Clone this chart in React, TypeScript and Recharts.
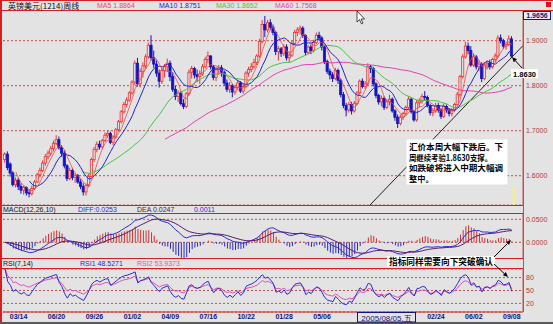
import React from 'react';
import { ComposedChart, Bar, Line, XAxis, YAxis, CartesianGrid, ReferenceLine } from 'recharts';

type Week = [string, number, number, number, number];

// GBP/USD weekly candles: [date, open, high, low, close]
const weeks2003: Week[] = [
  ['02/07', 1.636, 1.652, 1.629, 1.648], ['02/14', 1.648, 1.654, 1.612, 1.618], ['02/21', 1.626, 1.630, 1.598, 1.606],
  ['02/28', 1.606, 1.610, 1.576, 1.580], ['03/07', 1.580, 1.596, 1.574, 1.590], ['03/14', 1.590, 1.595, 1.568, 1.576],
  ['03/21', 1.576, 1.583, 1.560, 1.568], ['03/28', 1.568, 1.578, 1.558, 1.574], ['04/04', 1.574, 1.576, 1.556, 1.562],
  ['04/11', 1.562, 1.570, 1.552, 1.560], ['04/18', 1.560, 1.578, 1.556, 1.572], ['04/25', 1.572, 1.590, 1.568, 1.586],
  ['05/02', 1.586, 1.606, 1.584, 1.602], ['05/09', 1.602, 1.618, 1.596, 1.612], ['05/16', 1.612, 1.634, 1.608, 1.628],
  ['05/23', 1.628, 1.648, 1.622, 1.642], ['05/30', 1.642, 1.656, 1.636, 1.650], ['06/06', 1.650, 1.666, 1.644, 1.660],
  ['06/13', 1.660, 1.678, 1.654, 1.672], ['06/20', 1.672, 1.690, 1.668, 1.680], ['06/27', 1.680, 1.687, 1.658, 1.662],
  ['07/04', 1.662, 1.668, 1.642, 1.650], ['07/11', 1.650, 1.656, 1.616, 1.622], ['07/18', 1.622, 1.626, 1.588, 1.594],
  ['07/25', 1.594, 1.618, 1.590, 1.612], ['08/01', 1.612, 1.616, 1.590, 1.596], ['08/08', 1.596, 1.606, 1.584, 1.600],
  ['08/15', 1.600, 1.604, 1.582, 1.586], ['08/22', 1.586, 1.592, 1.570, 1.576], ['08/29', 1.576, 1.583, 1.556, 1.564],
  ['09/05', 1.564, 1.582, 1.556, 1.578], ['09/12', 1.578, 1.604, 1.574, 1.598], ['09/19', 1.598, 1.640, 1.596, 1.636],
  ['09/26', 1.636, 1.664, 1.630, 1.658], ['10/03', 1.658, 1.676, 1.652, 1.670], ['10/10', 1.670, 1.678, 1.658, 1.664],
  ['10/17', 1.664, 1.682, 1.660, 1.678], ['10/24', 1.678, 1.696, 1.674, 1.690], ['10/31', 1.690, 1.700, 1.684, 1.694],
  ['11/07', 1.694, 1.698, 1.670, 1.674], ['11/14', 1.674, 1.690, 1.668, 1.686], ['11/21', 1.686, 1.706, 1.682, 1.702],
  ['11/28', 1.702, 1.724, 1.698, 1.720], ['12/05', 1.720, 1.746, 1.716, 1.742], ['12/12', 1.742, 1.764, 1.738, 1.758],
  ['12/19', 1.758, 1.774, 1.752, 1.768], ['12/26', 1.768, 1.788, 1.764, 1.784],
];

const weeks2004: Week[] = [
  ['01/02', 1.784, 1.812, 1.780, 1.808], ['01/09', 1.808, 1.856, 1.802, 1.850], ['01/16', 1.850, 1.862, 1.798, 1.804],
  ['01/23', 1.804, 1.838, 1.796, 1.832], ['01/30', 1.832, 1.852, 1.818, 1.844], ['02/06', 1.844, 1.870, 1.838, 1.864],
  ['02/13', 1.864, 1.896, 1.860, 1.890], ['02/20', 1.890, 1.912, 1.856, 1.862], ['02/27', 1.862, 1.878, 1.840, 1.848],
  ['03/05', 1.848, 1.856, 1.820, 1.828], ['03/12', 1.828, 1.836, 1.796, 1.810], ['03/19', 1.810, 1.840, 1.804, 1.834],
  ['03/26', 1.834, 1.848, 1.818, 1.842], ['04/02', 1.842, 1.860, 1.830, 1.850], ['04/09', 1.850, 1.856, 1.810, 1.820],
  ['04/16', 1.820, 1.830, 1.786, 1.792], ['04/23', 1.792, 1.800, 1.768, 1.776], ['04/30', 1.776, 1.790, 1.764, 1.784],
  ['05/07', 1.784, 1.788, 1.756, 1.760], ['05/14', 1.760, 1.770, 1.748, 1.754], ['05/21', 1.754, 1.786, 1.750, 1.782],
  ['05/28', 1.782, 1.836, 1.778, 1.830], ['06/04', 1.830, 1.844, 1.816, 1.838], ['06/11', 1.838, 1.842, 1.816, 1.824],
  ['06/18', 1.824, 1.836, 1.808, 1.820], ['06/25', 1.820, 1.834, 1.804, 1.826], ['07/02', 1.826, 1.848, 1.822, 1.842],
  ['07/09', 1.842, 1.864, 1.838, 1.858], ['07/16', 1.858, 1.876, 1.850, 1.866], ['07/23', 1.866, 1.868, 1.836, 1.842],
  ['07/30', 1.842, 1.846, 1.812, 1.818], ['08/06', 1.818, 1.842, 1.810, 1.836], ['08/13', 1.836, 1.846, 1.824, 1.840],
  ['08/20', 1.840, 1.846, 1.820, 1.830], ['08/27', 1.830, 1.834, 1.800, 1.806], ['09/03', 1.806, 1.814, 1.786, 1.792],
  ['09/10', 1.792, 1.808, 1.784, 1.800], ['09/17', 1.800, 1.804, 1.774, 1.786], ['09/24', 1.786, 1.802, 1.780, 1.796],
  ['10/01', 1.796, 1.812, 1.790, 1.806], ['10/08', 1.806, 1.810, 1.784, 1.788], ['10/15', 1.788, 1.804, 1.782, 1.798],
  ['10/22', 1.798, 1.832, 1.794, 1.828], ['10/29', 1.828, 1.842, 1.820, 1.836], ['11/05', 1.836, 1.850, 1.830, 1.842],
  ['11/12', 1.842, 1.860, 1.838, 1.852], ['11/19', 1.852, 1.870, 1.846, 1.866], ['11/26', 1.866, 1.904, 1.862, 1.898],
  ['12/03', 1.898, 1.946, 1.894, 1.936], ['12/10', 1.936, 1.955, 1.908, 1.924], ['12/17', 1.924, 1.946, 1.918, 1.940],
  ['12/24', 1.940, 1.948, 1.924, 1.930], ['12/31', 1.930, 1.936, 1.912, 1.918],
];

const weeks2005: Week[] = [
  ['01/07', 1.918, 1.922, 1.868, 1.876], ['01/14', 1.876, 1.888, 1.856, 1.882], ['01/21', 1.882, 1.886, 1.864, 1.872],
  ['01/28', 1.872, 1.892, 1.866, 1.886], ['02/04', 1.886, 1.892, 1.856, 1.862], ['02/11', 1.862, 1.876, 1.852, 1.868],
  ['02/18', 1.868, 1.900, 1.864, 1.894], ['02/25', 1.894, 1.924, 1.890, 1.918], ['03/04', 1.918, 1.930, 1.910, 1.924],
  ['03/11', 1.924, 1.934, 1.914, 1.928], ['03/18', 1.928, 1.932, 1.906, 1.912], ['03/25', 1.912, 1.914, 1.868, 1.874],
  ['04/01', 1.874, 1.890, 1.870, 1.886], ['04/08', 1.886, 1.892, 1.870, 1.878], ['04/15', 1.878, 1.902, 1.874, 1.896],
  ['04/22', 1.896, 1.918, 1.892, 1.912], ['04/29', 1.912, 1.920, 1.900, 1.906], ['05/06', 1.906, 1.910, 1.878, 1.886],
  ['05/13', 1.886, 1.890, 1.848, 1.854], ['05/20', 1.854, 1.858, 1.826, 1.832], ['05/27', 1.832, 1.838, 1.814, 1.824],
  ['06/03', 1.824, 1.830, 1.808, 1.816], ['06/10', 1.816, 1.840, 1.812, 1.834], ['06/17', 1.834, 1.838, 1.804, 1.812],
  ['06/24', 1.812, 1.816, 1.774, 1.780], ['07/01', 1.780, 1.786, 1.750, 1.756], ['07/08', 1.756, 1.762, 1.732, 1.746],
  ['07/15', 1.746, 1.764, 1.740, 1.758], ['07/22', 1.758, 1.764, 1.736, 1.744], ['07/29', 1.744, 1.766, 1.740, 1.760],
  ['08/05', 1.760, 1.788, 1.756, 1.784], ['08/12', 1.784, 1.814, 1.780, 1.810], ['08/19', 1.810, 1.816, 1.794, 1.798],
  ['08/26', 1.798, 1.810, 1.792, 1.804], ['09/02', 1.804, 1.850, 1.800, 1.842], ['09/09', 1.842, 1.846, 1.828, 1.838],
  ['09/16', 1.838, 1.842, 1.798, 1.804], ['09/23', 1.804, 1.808, 1.772, 1.778], ['09/30', 1.778, 1.782, 1.758, 1.764],
  ['10/07', 1.764, 1.778, 1.754, 1.772], ['10/14', 1.772, 1.776, 1.746, 1.752], ['10/21', 1.752, 1.770, 1.748, 1.764],
  ['10/28', 1.764, 1.780, 1.756, 1.770], ['11/04', 1.770, 1.774, 1.740, 1.744], ['11/11', 1.744, 1.748, 1.722, 1.730],
  ['11/18', 1.730, 1.736, 1.706, 1.716], ['11/25', 1.716, 1.736, 1.712, 1.730], ['12/02', 1.730, 1.742, 1.724, 1.738],
  ['12/09', 1.738, 1.756, 1.734, 1.752], ['12/16', 1.752, 1.776, 1.748, 1.770], ['12/23', 1.770, 1.774, 1.738, 1.742],
  ['12/30', 1.742, 1.746, 1.720, 1.724],
];

const weeks2006: Week[] = [
  ['01/06', 1.724, 1.768, 1.720, 1.762], ['01/13', 1.762, 1.772, 1.752, 1.766], ['01/20', 1.766, 1.782, 1.760, 1.776],
  ['01/27', 1.776, 1.788, 1.768, 1.774], ['02/03', 1.774, 1.778, 1.752, 1.756], ['02/10', 1.756, 1.760, 1.734, 1.740],
  ['02/17', 1.740, 1.750, 1.732, 1.744], ['02/24', 1.744, 1.762, 1.740, 1.756], ['03/03', 1.756, 1.762, 1.740, 1.746],
  ['03/10', 1.746, 1.750, 1.726, 1.732], ['03/17', 1.732, 1.760, 1.728, 1.754], ['03/24', 1.754, 1.758, 1.740, 1.746],
  ['03/31', 1.746, 1.750, 1.732, 1.738], ['04/07', 1.738, 1.750, 1.732, 1.746], ['04/14', 1.746, 1.762, 1.742, 1.758],
  ['04/21', 1.758, 1.786, 1.754, 1.780], ['04/28', 1.780, 1.824, 1.776, 1.820], ['05/05', 1.820, 1.870, 1.816, 1.864],
  ['05/12', 1.864, 1.898, 1.860, 1.888], ['05/19', 1.888, 1.896, 1.870, 1.878], ['05/26', 1.878, 1.888, 1.842, 1.846],
  ['06/02', 1.846, 1.872, 1.842, 1.864], ['06/09', 1.864, 1.868, 1.836, 1.842], ['06/16', 1.842, 1.856, 1.832, 1.848],
  ['06/23', 1.848, 1.852, 1.808, 1.816], ['06/30', 1.816, 1.852, 1.812, 1.846], ['07/07', 1.846, 1.856, 1.836, 1.850],
  ['07/14', 1.850, 1.858, 1.836, 1.842], ['07/21', 1.842, 1.862, 1.838, 1.858], ['07/28', 1.858, 1.872, 1.852, 1.866],
  ['08/04', 1.866, 1.912, 1.862, 1.906], ['08/11', 1.906, 1.914, 1.894, 1.900], ['08/18', 1.900, 1.904, 1.882, 1.888],
  ['08/25', 1.888, 1.898, 1.880, 1.892], ['09/01', 1.892, 1.912, 1.888, 1.904], ['09/08', 1.904, 1.910, 1.862, 1.866],
];

// date labels visible under the RSI panel (the ones behind the cursor box are not shown)
const tickDates = [
  '2003/03/14', '2003/06/20', '2003/09/26', '2004/01/02', '2004/04/09', '2004/07/16', '2004/10/22',
  '2005/01/28', '2005/05/06', '2006/02/24', '2006/06/02', '2006/09/08',
];

const priceTicks = [1.6, 1.7, 1.8, 1.9];
const macdTicks = [0, 0.05];
const rsiTicks = [20, 50, 80];

// hand-drawn support line: [week index, price]
const supportLine = [{ x: 134.7, y: 1.535 }, { x: 191.1, y: 1.889 }];

const maLegend = [['MA5', '1.8864'], ['MA10', '1.8751'], ['MA30', '1.8652'], ['MA60', '1.7568']];
const macdLegend = ['DIFF:0.0253', 'DEA 0.0247', '0.0011'];
const rsiLegend = ['RSI1 48.5271', 'RSI2 53.9373'];

const noteLines = ['汇价本周大幅下跌后。下', '周继续考验1.8630支撑。', '如跌破将进入中期大幅调', '整中。'];

// ---------- styling ----------
const BG = '#e3e3e3';
const FRAME = '#d42020';
const GRID = '#c05050';
const AXIS_TXT = '#b03a3a';
const UP = '#f03030';
const DOWN = '#1414c0';
const MA_COLORS = ['#f04848', '#2424d0', '#48c048', '#e040b0'];
const FONT = '"Liberation Sans", Arial, sans-serif';
const CJK = '"Noto Sans CJK SC", sans-serif';

const X_DOMAIN: [number, number] = [-0.75, 191.13];

// ---------- derived series ----------
const candles = ([['2003', weeks2003], ['2004', weeks2004], ['2005', weeks2005], ['2006', weeks2006]] as [string, Week[]][])
  .flatMap(([y, ws]) => ws.map(([d, o, h, l, c]) => ({ date: `${y}/${d}`, o, h, l, c })));
const closes = candles.map((k) => k.c);

const sma = (v: number[], n: number) =>
  v.map((_, i) => (i < n - 1 ? null : v.slice(i - n + 1, i + 1).reduce((a, b) => a + b, 0) / n));
const ema = (v: number[], n: number) => {
  const k = 2 / (n + 1);
  const out: number[] = [];
  v.forEach((x, i) => out.push(i === 0 ? x : out[i - 1] + k * (x - out[i - 1])));
  return out;
};
const rsi = (n: number) => {
  let up = 0;
  let all = 0;
  return candles.map((k, i) => {
    const prev = i === 0 ? k.o : closes[i - 1];
    const d = k.c - prev;
    up = i === 0 ? Math.max(d, 0) : (Math.max(d, 0) + (n - 1) * up) / n;
    all = i === 0 ? Math.abs(d) : (Math.abs(d) + (n - 1) * all) / n;
    return all === 0 ? 50 : (up / all) * 100;
  });
};

const ma5 = sma(closes, 5);
const ma10 = sma(closes, 10);
const ma30 = sma(closes, 30);
const ma60 = sma(closes, 60);
const e12 = ema(closes, 12);
const e26 = ema(closes, 26);
const diff = e12.map((v, i) => v - e26[i]);
const dea = ema(diff, 10);
const rsi7 = rsi(7);
const rsi14 = rsi(14);

const rows = candles.map((k, i) => ({
  idx: i,
  ...k,
  range: [k.l, k.h],
  ma5: ma5[i], ma10: ma10[i], ma30: ma30[i], ma60: ma60[i],
  diff: diff[i], dea: dea[i], macd: 2 * (diff[i] - dea[i]),
  rsi1: rsi7[i], rsi2: rsi14[i],
}));

const tickIdx = tickDates.map((d) => candles.findIndex((k) => k.date === d));
const tickLabel = (v: number) => {
  const c = candles[Math.round(v)];
  return c ? c.date.slice(5) : '';
};

// ---------- shapes ----------
const Candle = (props: any) => {
  const { x, y, width, height, payload } = props;
  if (!payload) return null;
  const { o, h, l, c } = payload;
  const top = Math.min(y, y + height);
  const bot = Math.max(y, y + height);
  const span = h - l || 1;
  const py = (v: number) => top + ((h - v) / span) * (bot - top);
  const cx = x + width / 2;
  const up = c >= o;
  const color = up ? UP : DOWN;
  const bTop = py(Math.max(o, c));
  const bH = Math.max(0.8, py(Math.min(o, c)) - bTop);
  return (
    <g>
      <line x1={cx} x2={cx} y1={top} y2={bot} stroke={color} strokeWidth={1} />
      <rect x={cx - 1.1} y={bTop} width={2.2} height={bH} fill={up ? BG : DOWN} stroke={color} strokeWidth={0.8} />
    </g>
  );
};

const MacdBar = (props: any) => {
  const { x, y, width, height, payload } = props;
  if (!payload) return null;
  const cx = x + width / 2;
  return <line x1={cx} x2={cx} y1={y} y2={y + height} stroke={payload.macd >= 0 ? '#d03030' : '#2828c8'} strokeWidth={1} />;
};

const Arrow = ({ x1, y1, x2, y2 }: { x1: number; y1: number; x2: number; y2: number }) => {
  const a = Math.atan2(y2 - y1, x2 - x1);
  const L = 5;
  const W = 2.2;
  const bx = x2 - L * Math.cos(a);
  const by = y2 - L * Math.sin(a);
  const pts = `${x2},${y2} ${bx + W * Math.sin(a)},${by - W * Math.cos(a)} ${bx - W * Math.sin(a)},${by + W * Math.cos(a)}`;
  return (
    <g>
      <line x1={x1} y1={y1} x2={bx} y2={by} stroke="#000" strokeWidth={1} />
      <polygon points={pts} fill="#000" />
    </g>
  );
};

const yAxisProps = {
  orientation: 'right' as const,
  width: 30,
  allowDataOverflow: true,
  interval: 0 as const,
  tickLine: false,
  tickSize: 2,
  tickMargin: 1,
  axisLine: { stroke: GRID },
  tick: { fill: AXIS_TXT, fontSize: 7, fontFamily: FONT },
};

export default function App() {
  return (
    <div style={{ position: 'absolute', left: 0, top: 0, width: 553, height: 324, background: BG, overflow: 'hidden' }}>
      {/* price panel */}
      <div style={{ position: 'absolute', left: 0, top: 10 }}>
        <ComposedChart width={553} height={195} data={rows} margin={{ top: 0, right: 0, bottom: 0, left: 3 }}>
          <CartesianGrid vertical={false} stroke={GRID} strokeDasharray="2 2" />
          <XAxis type="number" dataKey="idx" domain={X_DOMAIN} hide allowDataOverflow />
          <YAxis {...yAxisProps} domain={[1.5349, 1.9682]} ticks={priceTicks} tickFormatter={(v: number) => v.toFixed(4)} />
          <ReferenceLine segment={supportLine} stroke="#222" strokeWidth={1} ifOverflow="hidden" />
          <Bar dataKey="range" shape={Candle} barSize={2} isAnimationActive={false} />
          <Line dataKey="ma60" stroke={MA_COLORS[3]} dot={false} strokeWidth={1} isAnimationActive={false} />
          <Line dataKey="ma30" stroke={MA_COLORS[2]} dot={false} strokeWidth={1} isAnimationActive={false} />
          <Line dataKey="ma10" stroke={MA_COLORS[1]} dot={false} strokeWidth={1} isAnimationActive={false} />
          <Line dataKey="ma5" stroke={MA_COLORS[0]} dot={false} strokeWidth={0.8} isAnimationActive={false} />
        </ComposedChart>
      </div>

      {/* MACD panel */}
      <div style={{ position: 'absolute', left: 0, top: 213 }}>
        <ComposedChart width={553} height={46} data={rows} margin={{ top: 0, right: 0, bottom: 0, left: 3 }}>
          <CartesianGrid vertical={false} stroke={GRID} strokeDasharray="2 2" />
          <XAxis type="number" dataKey="idx" domain={X_DOMAIN} hide allowDataOverflow />
          <YAxis {...yAxisProps} domain={[-0.0363, 0.0637]} ticks={macdTicks} tickFormatter={(v: number) => v.toFixed(4)} />
          <Bar dataKey="macd" shape={MacdBar} barSize={1} isAnimationActive={false} />
          <Line dataKey="diff" stroke="#2a2ad8" dot={false} strokeWidth={1} isAnimationActive={false} />
          <Line dataKey="dea" stroke="#5a1a6a" dot={false} strokeWidth={1} isAnimationActive={false} />
        </ComposedChart>
      </div>

      {/* RSI panel with date axis */}
      <div style={{ position: 'absolute', left: 0, top: 269 }}>
        <ComposedChart width={553} height={55} data={rows} margin={{ top: 0, right: 0, bottom: 0, left: 3 }}>
          <CartesianGrid vertical={false} stroke={GRID} strokeDasharray="2 2" />
          <XAxis
            type="number"
            dataKey="idx"
            domain={X_DOMAIN}
            allowDataOverflow
            ticks={tickIdx}
            interval={0}
            tickFormatter={tickLabel}
            height={12}
            tickLine={false}
            tickSize={0}
            tickMargin={2}
            axisLine={{ stroke: FRAME }}
            tick={{ fill: '#14147a', fontSize: 7, fontWeight: 700, fontFamily: FONT }}
          />
          <YAxis {...yAxisProps} domain={[0, 100]} ticks={rsiTicks} />
          <Line dataKey="rsi2" stroke="#e050b0" dot={false} strokeWidth={1} isAnimationActive={false} />
          <Line dataKey="rsi1" stroke="#2a2ad0" dot={false} strokeWidth={1} isAnimationActive={false} />
        </ComposedChart>
      </div>

      {/* frame, captions and notes */}
      <svg width={553} height={324} style={{ position: 'absolute', left: 0, top: 0, pointerEvents: 'none' }}>
        <rect x={0} y={0} width={553} height={1} fill={FRAME} />
        <rect x={0} y={0} width={2} height={324} fill={FRAME} />
        <line x1={0} x2={553} y1={10.5} y2={10.5} stroke={FRAME} />
        {[205.5, 213.5, 258.5, 268.5].map((y) => (
          <line key={y} x1={2} x2={523} y1={y} y2={y} stroke={FRAME} />
        ))}
        <line x1={523.5} x2={523.5} y1={10} y2={312} stroke={GRID} />
        <rect x={0} y={322} width={553} height={2} fill="#5a5a5a" />
        <rect x={546} y={2} width={5} height={5} fill="#e01010" />

        <text x={8} y={8.5} fontSize={8} fontFamily={CJK} fill="#111">英镑美元(1214)周线</text>
        {maLegend.map(([k, v], i) => (
          <text key={k} x={[97, 159, 216, 275][i]} y={8} fontSize={7} fontFamily={FONT} fill={MA_COLORS[i]}>
            {k} {v}
          </text>
        ))}

        <text x={3} y={211.5} fontSize={7} fontFamily={FONT} fill="#111">MACD(12,26,10)</text>
        <text x={78} y={211.5} fontSize={7} fontFamily={FONT} fill="#2a2ad8">{macdLegend[0]}</text>
        <text x={137} y={211.5} fontSize={7} fontFamily={FONT} fill="#4a2040">{macdLegend[1]}</text>
        <text x={194} y={211.5} fontSize={7} fontFamily={FONT} fill="#2a2ad8">{macdLegend[2]}</text>

        <text x={3} y={265.5} fontSize={7} fontFamily={FONT} fill="#111">RSI(7,14)</text>
        <text x={80} y={265.5} fontSize={7} fontFamily={FONT} fill="#2a2ad0">{rsiLegend[0]}</text>
        <text x={137} y={265.5} fontSize={7} fontFamily={FONT} fill="#e050b0">{rsiLegend[1]}</text>

        {/* last-high box */}
        <rect x={523.5} y={11.5} width={27} height={8} fill="#eceef6" stroke="#14147a" />
        <text x={537} y={18.3} fontSize={7} fontWeight={700} fontFamily={FONT} fill="#14147a" textAnchor="middle">1.9656</text>

        {/* mouse pointer */}
        <polygon points="357,11 357,22 359.5,19.6 361.4,23.8 363,23.1 361.1,19 364.6,19" fill="#fff" stroke="#000" strokeWidth={0.7} />

        {/* yellow marker */}
        <rect x={512.5} y={187} width={2.5} height={18} fill="#f2ee9c" />

        {/* main comment */}
        <rect x={406.5} y={139.5} width={101} height={45} fill="#fff" />
        {noteLines.map((t, i) => (
          <text
            key={t}
            x={409}
            y={150 + i * 10.6}
            fontSize={8.2}
            fontWeight={700}
            fontFamily={CJK}
            fill="#000"
            textLength={i === 3 ? undefined : i === 1 ? 83 : 94}
            lengthAdjust="spacingAndGlyphs"
          >
            {t}
          </text>
        ))}

        {/* support label */}
        <rect x={511} y={69} width={27} height={9} fill="#fff" />
        <text x={513} y={76.5} fontSize={7.5} fontWeight={700} fontFamily={FONT} fill="#000" textLength={23} lengthAdjust="spacingAndGlyphs">1.8630</text>
        <Arrow x1={522} y1={68} x2={512} y2={57} />

        {/* indicator comment */}
        <rect x={387} y={256} width={108} height={10} fill="#fff" />
        <text x={389} y={264.5} fontSize={8.6} fontWeight={700} fontFamily={CJK} fill="#000" textLength={104} lengthAdjust="spacingAndGlyphs">
          指标同样需要向下突破确认
        </text>
        <Arrow x1={494} y1={257} x2={511} y2={240} />
        <Arrow x1={494} y1={264} x2={508} y2={277} />

        {/* cursor date */}
        <rect x={357.5} y={312.5} width={58} height={9.5} fill={BG} stroke="#14147a" />
        <text x={386.5} y={320.5} fontSize={8} fontFamily={FONT} fill="#14147a" textAnchor="middle">2005/08/05,五</text>
      </svg>
    </div>
  );
}
